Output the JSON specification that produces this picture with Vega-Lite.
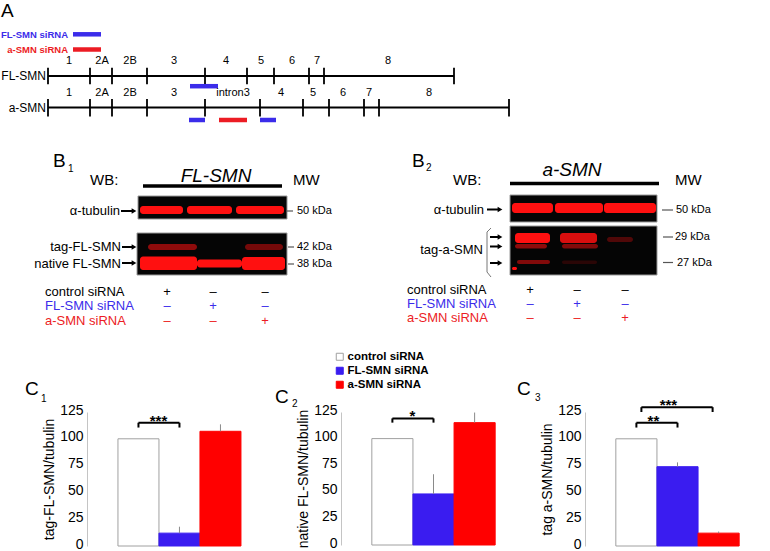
{
"$schema":"https://vega.github.io/schema/vega-lite/v6.json",
"padding":0,
"background":"#ffffff",
"bounds":"flush",
"spacing":0,
"config":{"view":{"stroke":null},"font":"Liberation Sans"},
"datasets":{
"bars":[
{"panel":"C1","condition":"control siRNA","value":100},
{"panel":"C1","condition":"FL-SMN siRNA","value":12,"upper":18},
{"panel":"C1","condition":"a-SMN siRNA","value":107,"upper":113.5},
{"panel":"C2","condition":"control siRNA","value":100},
{"panel":"C2","condition":"FL-SMN siRNA","value":48,"upper":66.5},
{"panel":"C2","condition":"a-SMN siRNA","value":115,"upper":124.5},
{"panel":"C3","condition":"control siRNA","value":100},
{"panel":"C3","condition":"FL-SMN siRNA","value":74,"upper":78},
{"panel":"C3","condition":"a-SMN siRNA","value":12,"upper":13.5}
],
"brackets":[
{"panel":"C1","condition":"control siRNA","to":"FL-SMN siRNA","value":115,"leg":110.5,"stars":"***"},
{"panel":"C2","condition":"control siRNA","to":"FL-SMN siRNA","value":119,"leg":115,"stars":"*"},
{"panel":"C3","condition":"control siRNA","to":"FL-SMN siRNA","value":115,"leg":110.5,"stars":"**"},
{"panel":"C3","condition":"control siRNA","to":"a-SMN siRNA","value":129.5,"leg":125,"stars":"***"}
],
"genes":[{"gene":"FL-SMN","x":48,"x2":454,"y":76},{"gene":"a-SMN","x":48,"x2":509,"y":107.5}],
"boundaries":[
{"gene":"FL-SMN","x":48,"y":67.7,"y2":84.3},{"gene":"FL-SMN","x":90,"y":67.7,"y2":84.3},{"gene":"FL-SMN","x":112,"y":67.7,"y2":84.3},{"gene":"FL-SMN","x":147,"y":67.7,"y2":84.3},{"gene":"FL-SMN","x":205,"y":67.7,"y2":84.3},{"gene":"FL-SMN","x":247,"y":67.7,"y2":84.3},{"gene":"FL-SMN","x":274,"y":67.7,"y2":84.3},{"gene":"FL-SMN","x":309,"y":67.7,"y2":84.3},{"gene":"FL-SMN","x":324,"y":67.7,"y2":84.3},{"gene":"FL-SMN","x":454,"y":67.7,"y2":84.3},
{"gene":"a-SMN","x":48,"y":99,"y2":116.5},{"gene":"a-SMN","x":90,"y":99,"y2":116.5},{"gene":"a-SMN","x":112,"y":99,"y2":116.5},{"gene":"a-SMN","x":147,"y":99,"y2":116.5},{"gene":"a-SMN","x":205,"y":99,"y2":116.5},{"gene":"a-SMN","x":260,"y":99,"y2":116.5},{"gene":"a-SMN","x":303,"y":99,"y2":116.5},{"gene":"a-SMN","x":329,"y":99,"y2":116.5},{"gene":"a-SMN","x":364,"y":99,"y2":116.5},{"gene":"a-SMN","x":379,"y":99,"y2":116.5},{"gene":"a-SMN","x":509,"y":99,"y2":116.5}
],
"exons":[
{"t":"1","x":69,"y":61},{"t":"2A","x":102,"y":61},{"t":"2B","x":130,"y":61},{"t":"3","x":174,"y":61},{"t":"4","x":226,"y":61},{"t":"5","x":261,"y":61},{"t":"6","x":292,"y":61},{"t":"7","x":317,"y":61},{"t":"8","x":388,"y":61},
{"t":"1","x":69,"y":92.5},{"t":"2A","x":102,"y":92.5},{"t":"2B","x":130,"y":92.5},{"t":"3","x":174,"y":92.5},{"t":"intron3","x":233,"y":92.5},{"t":"4","x":281,"y":92.5},{"t":"5","x":313,"y":92.5},{"t":"6","x":343,"y":92.5},{"t":"7","x":369,"y":92.5},{"t":"8","x":429,"y":92.5}
],
"genenames":[{"t":"FL-SMN","x":46,"y":76},{"t":"a-SMN","x":46,"y":107.5}],
"targets":[
{"siRNA":"FL-SMN siRNA","x":73,"x2":101,"y":34.3},
{"siRNA":"a-SMN siRNA","x":73,"x2":101,"y":49.5},
{"siRNA":"FL-SMN siRNA","x":190,"x2":218,"y":86.2},
{"siRNA":"FL-SMN siRNA","x":189,"x2":205,"y":120},
{"siRNA":"a-SMN siRNA","x":219,"x2":247,"y":120},
{"siRNA":"FL-SMN siRNA","x":260,"x2":276,"y":120}
],
"keys":[{"siRNA":"FL-SMN siRNA","x":68,"y":34.5},{"siRNA":"a-SMN siRNA","x":68,"y":49.5}],
"blots":[
{"x":138,"x2":287,"y":196,"y2":219},
{"x":137,"x2":287,"y":233,"y2":275},
{"x":510,"x2":657,"y":195,"y2":222},
{"x":510,"x2":657,"y":226,"y2":275}
],
"bands":[
{"x":140,"x2":183,"y":206,"y2":214,"intensity":1},
{"x":187,"x2":232,"y":206,"y2":214,"intensity":1},
{"x":236,"x2":284,"y":206,"y2":214,"intensity":1},
{"x":148,"x2":197,"y":244,"y2":250,"intensity":0.55},
{"x":245,"x2":283,"y":244,"y2":250,"intensity":0.45},
{"x":140,"x2":197,"y":256.5,"y2":270,"intensity":1},
{"x":197,"x2":242,"y":259.5,"y2":267.5,"intensity":1},
{"x":242,"x2":285,"y":257,"y2":270,"intensity":1},
{"x":512,"x2":553,"y":203,"y2":213,"intensity":1},
{"x":555,"x2":603,"y":203,"y2":213,"intensity":1},
{"x":604,"x2":656,"y":203,"y2":213,"intensity":1},
{"x":515,"x2":550,"y":233,"y2":243,"intensity":1},
{"x":560,"x2":597,"y":233,"y2":243,"intensity":0.85},
{"x":607,"x2":633,"y":237,"y2":242,"intensity":0.3},
{"x":515,"x2":547,"y":244,"y2":248.5,"intensity":0.55},
{"x":562,"x2":598,"y":244,"y2":248.5,"intensity":0.5},
{"x":517,"x2":550,"y":260,"y2":264,"intensity":0.5},
{"x":562,"x2":597,"y":260.5,"y2":264,"intensity":0.15},
{"x":512,"x2":517,"y":267,"y2":270,"intensity":1}
],
"headers":[{"x":143,"x2":282,"y":186},{"x":510,"x2":659,"y":183.5}],
"arrows":[
{"x":134,"x2":121,"y":211},{"x":134,"x2":122,"y":247},{"x":134,"x2":122,"y":263},
{"x":500,"x2":487,"y":209.5},{"x":500,"x2":490,"y":237},{"x":500,"x2":490,"y":246.5},{"x":500,"x2":490,"y":263}
],
"mwdash":[
{"x":287,"x2":293,"y":211},{"x":288,"x2":294,"y":247},{"x":288,"x2":294,"y":264},
{"x":662,"x2":673,"y":210},{"x":663,"x2":673,"y":237},{"x":663,"x2":673,"y":262.5}
],
"brace":[{"x":491,"y":228,"order":1},{"x":487,"y":232,"order":2},{"x":487,"y":272,"order":3},{"x":491,"y":277,"order":4}],
"letters":[{"t":"A","x":1,"y":17},{"t":"B","x":53,"y":167},{"t":"B","x":412,"y":167},{"t":"C","x":25,"y":395},{"t":"C","x":275,"y":403},{"t":"C","x":517,"y":395}],
"subs":[{"t":"1","x":68,"y":172},{"t":"2","x":426,"y":171},{"t":"1","x":41,"y":402},{"t":"2","x":292,"y":407},{"t":"3","x":535,"y":401}],
"wb":[{"t":"WB:","x":90,"y":185},{"t":"MW","x":293,"y":185},{"t":"WB:","x":453,"y":185},{"t":"MW","x":675,"y":185}],
"antibody":[{"t":"FL-SMN","x":216,"y":182},{"t":"a-SMN","x":572,"y":176}],
"blotlabels":[{"t":"α-tubulin","x":120,"y":211},{"t":"tag-FL-SMN","x":121,"y":247},{"t":"native FL-SMN","x":121,"y":263.5},{"t":"α-tubulin","x":484,"y":209.5},{"t":"tag-a-SMN","x":483,"y":250}],
"mw":[{"t":"50 kDa","x":297,"y":211},{"t":"42 kDa","x":297,"y":247},{"t":"38 kDa","x":297,"y":264},{"t":"50 kDa","x":676,"y":210},{"t":"29 kDa","x":675,"y":237},{"t":"27 kDa","x":677,"y":262.5}],
"rowlabels":[
{"siRNA":"control siRNA","x":45,"y":292},{"siRNA":"FL-SMN siRNA","x":45,"y":305.5},{"siRNA":"a-SMN siRNA","x":45,"y":320.5},
{"siRNA":"control siRNA","x":407,"y":290},{"siRNA":"FL-SMN siRNA","x":407,"y":304},{"siRNA":"a-SMN siRNA","x":407,"y":318}
],
"signs":[
{"siRNA":"control siRNA","x":167,"y":292,"sign":"+"},{"siRNA":"control siRNA","x":213,"y":292,"sign":"–"},{"siRNA":"control siRNA","x":265,"y":292,"sign":"–"},
{"siRNA":"FL-SMN siRNA","x":167,"y":305.5,"sign":"–"},{"siRNA":"FL-SMN siRNA","x":213,"y":305.5,"sign":"+"},{"siRNA":"FL-SMN siRNA","x":265,"y":305.5,"sign":"–"},
{"siRNA":"a-SMN siRNA","x":167,"y":320.5,"sign":"–"},{"siRNA":"a-SMN siRNA","x":213,"y":320.5,"sign":"–"},{"siRNA":"a-SMN siRNA","x":265,"y":320.5,"sign":"+"},
{"siRNA":"control siRNA","x":530,"y":290,"sign":"+"},{"siRNA":"control siRNA","x":577,"y":290,"sign":"–"},{"siRNA":"control siRNA","x":625,"y":290,"sign":"–"},
{"siRNA":"FL-SMN siRNA","x":530,"y":304,"sign":"–"},{"siRNA":"FL-SMN siRNA","x":577,"y":304,"sign":"+"},{"siRNA":"FL-SMN siRNA","x":625,"y":304,"sign":"–"},
{"siRNA":"a-SMN siRNA","x":530,"y":318,"sign":"–"},{"siRNA":"a-SMN siRNA","x":577,"y":318,"sign":"–"},{"siRNA":"a-SMN siRNA","x":625,"y":318,"sign":"+"}
]
},
"vconcat":[
{
"width":770,"height":412,
"encoding":{
"x":{"field":"x","type":"quantitative","scale":{"domain":[0,770],"range":[0,770],"nice":false,"zero":false},"axis":null},
"y":{"field":"y","type":"quantitative","scale":{"domain":[0,412],"range":[0,412],"nice":false,"zero":false},"axis":null}
},
"layer":[
{"data":{"name":"blots"},"mark":{"type":"rect","fill":"#050505","stroke":"#9a9a9a","strokeWidth":1},"encoding":{"x2":{"field":"x2"},"y2":{"field":"y2"}}},
{"data":{"name":"bands"},"mark":{"type":"rect","fill":"#ff1010","cornerRadius":3},"encoding":{"x2":{"field":"x2"},"y2":{"field":"y2"},"opacity":{"field":"intensity","type":"quantitative","scale":null}}},
{"data":{"name":"genes"},"mark":{"type":"rule","color":"#000000","strokeWidth":1.8},"encoding":{"x2":{"field":"x2"}}},
{"data":{"name":"boundaries"},"mark":{"type":"rule","color":"#000000","strokeWidth":1.8},"encoding":{"y2":{"field":"y2"}}},
{"data":{"name":"targets"},"mark":{"type":"rule","strokeWidth":4.5},"encoding":{"x2":{"field":"x2"},"color":{"field":"siRNA","type":"nominal","scale":{"domain":["FL-SMN siRNA","a-SMN siRNA","control siRNA"],"range":["#3b2cea","#ec1c24","#000000"]},"legend":null}}},
{"data":{"name":"headers"},"mark":{"type":"rule","color":"#000000","strokeWidth":3.5},"encoding":{"x2":{"field":"x2"}}},
{"data":{"name":"arrows"},"mark":{"type":"rule","color":"#000000","strokeWidth":2},"encoding":{"x2":{"field":"x2"}}},
{"data":{"name":"arrows"},"mark":{"type":"point","shape":"triangle-right","filled":true,"color":"#000000","size":30,"opacity":1},"encoding":{}},
{"data":{"name":"mwdash"},"mark":{"type":"rule","color":"#555555","strokeWidth":1.2},"encoding":{"x2":{"field":"x2"}}},
{"data":{"name":"brace"},"mark":{"type":"line","color":"#777777","strokeWidth":1},"encoding":{"order":{"field":"order","type":"quantitative"}}},
{"data":{"name":"letters"},"mark":{"type":"text","fontSize":19,"align":"left","baseline":"alphabetic","color":"#000000"},"encoding":{"text":{"field":"t"}}},
{"data":{"name":"subs"},"mark":{"type":"text","fontSize":10,"align":"left","baseline":"alphabetic","color":"#000000"},"encoding":{"text":{"field":"t"}}},
{"data":{"name":"wb"},"mark":{"type":"text","fontSize":15,"align":"left","baseline":"alphabetic","color":"#000000"},"encoding":{"text":{"field":"t"}}},
{"data":{"name":"antibody"},"mark":{"type":"text","fontSize":19,"fontStyle":"italic","align":"center","baseline":"alphabetic","color":"#000000"},"encoding":{"text":{"field":"t"}}},
{"data":{"name":"blotlabels"},"mark":{"type":"text","fontSize":13,"align":"right","baseline":"middle","color":"#000000"},"encoding":{"text":{"field":"t"}}},
{"data":{"name":"mw"},"mark":{"type":"text","fontSize":11,"align":"left","baseline":"middle","color":"#000000"},"encoding":{"text":{"field":"t"}}},
{"data":{"name":"exons"},"mark":{"type":"text","fontSize":11,"align":"center","baseline":"middle","color":"#000000"},"encoding":{"text":{"field":"t"}}},
{"data":{"name":"genenames"},"mark":{"type":"text","fontSize":12,"align":"right","baseline":"middle","color":"#000000"},"encoding":{"text":{"field":"t"}}},
{"data":{"name":"keys"},"mark":{"type":"text","fontSize":9.5,"fontWeight":"bold","align":"right","baseline":"middle"},"encoding":{"text":{"field":"siRNA"},"color":{"field":"siRNA","type":"nominal","scale":{"domain":["FL-SMN siRNA","a-SMN siRNA","control siRNA"],"range":["#3b2cea","#ec1c24","#000000"]},"legend":null}}},
{"data":{"name":"rowlabels"},"mark":{"type":"text","fontSize":13,"align":"left","baseline":"middle"},"encoding":{"text":{"field":"siRNA"},"color":{"field":"siRNA","type":"nominal","scale":{"domain":["FL-SMN siRNA","a-SMN siRNA","control siRNA"],"range":["#3b2cea","#ec1c24","#000000"]},"legend":null}}},
{"data":{"name":"signs"},"mark":{"type":"text","fontSize":13,"align":"center","baseline":"middle"},"encoding":{"text":{"field":"sign"},"color":{"field":"siRNA","type":"nominal","scale":{"domain":["FL-SMN siRNA","a-SMN siRNA","control siRNA"],"range":["#3b2cea","#ec1c24","#000000"]},"legend":null}}}
]
},
{
"spacing":59,
"bounds":"flush",
"hconcat":[
{"width":28,"height":134,"data":{"values":[{"k":0}]},"mark":{"type":"point","opacity":0},"encoding":{}},
{
"width":195,"height":134,
"encoding":{
"x":{"field":"condition","type":"nominal","scale":{"type":"band","domain":["control siRNA","FL-SMN siRNA","a-SMN siRNA"],"paddingInner":0,"paddingOuter":0.878,"align":0.43},"axis":{"labels":false,"ticks":false,"title":null,"grid":false,"domainColor":"#a6a6a6","domainWidth":1}},
"y":{"field":"value","type":"quantitative","scale":{"domain":[0,125],"nice":false,"zero":true},"axis":{"values":[0,25,50,75,100,125],"ticks":false,"labelPadding":4,"labelOffset":-2,"labelFontSize":14,"labelColor":"#000000","labelFlush":false,"labelOverlap":false,"labelBound":false,"grid":false,"domainColor":"#c4c4c4","title":"tag-FL-SMN/tubulin","titleFontSize":14,"titleFontWeight":"normal","titleColor":"#000000","titlePadding":3}}
},
"layer":[
{"data":{"name":"bars"},"transform":[{"filter":"datum.panel === 'C1'"}],"mark":{"type":"bar","strokeWidth":1},"encoding":{
"fill":{"field":"condition","type":"nominal","scale":{"domain":["control siRNA","FL-SMN siRNA","a-SMN siRNA"],"range":["#ffffff","#3a1cf0","#ff0000"]},"legend":{"orient":"none","legendX":334,"legendY":351,"title":null,"symbolType":"square","symbolSize":49,"symbolStrokeWidth":1,"labelFontSize":11.5,"labelFontWeight":"bold","labelColor":"#000000","labelOffset":2,"rowPadding":1,"labelLimit":200}},
"stroke":{"field":"condition","type":"nominal","scale":{"domain":["control siRNA","FL-SMN siRNA","a-SMN siRNA"],"range":["#a0a0a0","#3a1cf0","#ff0000"]},"legend":{"orient":"none","legendX":334,"legendY":351,"title":null,"symbolType":"square","symbolSize":49,"symbolStrokeWidth":1,"labelFontSize":11.5,"labelFontWeight":"bold","labelColor":"#000000","labelOffset":2,"rowPadding":1,"labelLimit":200}}}},
{"data":{"name":"bars"},"transform":[{"filter":"datum.panel === 'C1' && isValid(datum.upper)"}],"mark":{"type":"rule","color":"#8a8a8a","strokeWidth":1},"encoding":{"y2":{"field":"upper"}}},
{"data":{"name":"brackets"},"transform":[{"filter":"datum.panel === 'C1'"}],"mark":{"type":"rule","color":"#000000","strokeWidth":2},"encoding":{"x2":{"field":"to"}}},
{"data":{"name":"brackets"},"transform":[{"filter":"datum.panel === 'C1'"}],"mark":{"type":"rule","color":"#000000","strokeWidth":2},"encoding":{"y2":{"field":"leg"}}},
{"data":{"name":"brackets"},"transform":[{"filter":"datum.panel === 'C1'"}],"mark":{"type":"rule","color":"#000000","strokeWidth":2},"encoding":{"x":{"field":"to","type":"nominal","scale":{"type":"band","domain":["control siRNA","FL-SMN siRNA","a-SMN siRNA"],"paddingInner":0,"paddingOuter":0.878,"align":0.43},"axis":null},"y2":{"field":"leg"}}},
{"data":{"name":"brackets"},"transform":[{"filter":"datum.panel === 'C1'"}],"mark":{"type":"text","dx":20,"dy":3,"fontSize":15,"fontWeight":"bold","align":"center","baseline":"alphabetic","color":"#000000"},"encoding":{"text":{"field":"stars"}}}
]
},
{
"width":185,"height":133,
"encoding":{
"x":{"field":"condition","type":"nominal","scale":{"type":"band","domain":["control siRNA","FL-SMN siRNA","a-SMN siRNA"],"paddingInner":0,"paddingOuter":0.75},"axis":{"labels":false,"ticks":false,"title":null,"grid":false,"domainColor":"#a6a6a6","domainWidth":1}},
"y":{"field":"value","type":"quantitative","scale":{"domain":[0,125],"nice":false,"zero":true},"axis":{"values":[0,25,50,75,100,125],"ticks":false,"labelPadding":4,"labelOffset":-2,"labelFontSize":14,"labelColor":"#000000","labelFlush":false,"labelOverlap":false,"labelBound":false,"grid":false,"domainColor":"#c4c4c4","title":"native FL-SMN/tubulin","titleFontSize":14,"titleFontWeight":"normal","titleColor":"#000000","titlePadding":3}}
},
"layer":[
{"data":{"name":"bars"},"transform":[{"filter":"datum.panel === 'C2'"}],"mark":{"type":"bar","strokeWidth":1},"encoding":{
"fill":{"field":"condition","type":"nominal","scale":{"domain":["control siRNA","FL-SMN siRNA","a-SMN siRNA"],"range":["#ffffff","#3a1cf0","#ff0000"]},"legend":{"orient":"none","legendX":334,"legendY":351,"title":null,"symbolType":"square","symbolSize":49,"symbolStrokeWidth":1,"labelFontSize":11.5,"labelFontWeight":"bold","labelColor":"#000000","labelOffset":2,"rowPadding":1,"labelLimit":200}},
"stroke":{"field":"condition","type":"nominal","scale":{"domain":["control siRNA","FL-SMN siRNA","a-SMN siRNA"],"range":["#a0a0a0","#3a1cf0","#ff0000"]},"legend":{"orient":"none","legendX":334,"legendY":351,"title":null,"symbolType":"square","symbolSize":49,"symbolStrokeWidth":1,"labelFontSize":11.5,"labelFontWeight":"bold","labelColor":"#000000","labelOffset":2,"rowPadding":1,"labelLimit":200}}}},
{"data":{"name":"bars"},"transform":[{"filter":"datum.panel === 'C2' && isValid(datum.upper)"}],"mark":{"type":"rule","color":"#8a8a8a","strokeWidth":1},"encoding":{"y2":{"field":"upper"}}},
{"data":{"name":"brackets"},"transform":[{"filter":"datum.panel === 'C2'"}],"mark":{"type":"rule","color":"#000000","strokeWidth":2},"encoding":{"x2":{"field":"to"}}},
{"data":{"name":"brackets"},"transform":[{"filter":"datum.panel === 'C2'"}],"mark":{"type":"rule","color":"#000000","strokeWidth":2},"encoding":{"y2":{"field":"leg"}}},
{"data":{"name":"brackets"},"transform":[{"filter":"datum.panel === 'C2'"}],"mark":{"type":"rule","color":"#000000","strokeWidth":2},"encoding":{"x":{"field":"to","type":"nominal","scale":{"type":"band","domain":["control siRNA","FL-SMN siRNA","a-SMN siRNA"],"paddingInner":0,"paddingOuter":0.75},"axis":null},"y2":{"field":"leg"}}},
{"data":{"name":"brackets"},"transform":[{"filter":"datum.panel === 'C2'"}],"mark":{"type":"text","dx":20,"dy":3,"fontSize":15,"fontWeight":"bold","align":"center","baseline":"alphabetic","color":"#000000"},"encoding":{"text":{"field":"stars"}}}
]
},
{
"width":185,"height":134,
"encoding":{
"x":{"field":"condition","type":"nominal","scale":{"type":"band","domain":["control siRNA","FL-SMN siRNA","a-SMN siRNA"],"paddingInner":0,"paddingOuter":0.75},"axis":{"labels":false,"ticks":false,"title":null,"grid":false,"domainColor":"#a6a6a6","domainWidth":1}},
"y":{"field":"value","type":"quantitative","scale":{"domain":[0,125],"nice":false,"zero":true},"axis":{"values":[0,25,50,75,100,125],"ticks":false,"labelPadding":4,"labelOffset":-2,"labelFontSize":14,"labelColor":"#000000","labelFlush":false,"labelOverlap":false,"labelBound":false,"grid":false,"domainColor":"#c4c4c4","title":"tag a-SMN/tubulin","titleFontSize":14,"titleFontWeight":"normal","titleColor":"#000000","titlePadding":3}}
},
"layer":[
{"data":{"name":"bars"},"transform":[{"filter":"datum.panel === 'C3'"}],"mark":{"type":"bar","strokeWidth":1},"encoding":{
"fill":{"field":"condition","type":"nominal","scale":{"domain":["control siRNA","FL-SMN siRNA","a-SMN siRNA"],"range":["#ffffff","#3a1cf0","#ff0000"]},"legend":{"orient":"none","legendX":334,"legendY":351,"title":null,"symbolType":"square","symbolSize":49,"symbolStrokeWidth":1,"labelFontSize":11.5,"labelFontWeight":"bold","labelColor":"#000000","labelOffset":2,"rowPadding":1,"labelLimit":200}},
"stroke":{"field":"condition","type":"nominal","scale":{"domain":["control siRNA","FL-SMN siRNA","a-SMN siRNA"],"range":["#a0a0a0","#3a1cf0","#ff0000"]},"legend":{"orient":"none","legendX":334,"legendY":351,"title":null,"symbolType":"square","symbolSize":49,"symbolStrokeWidth":1,"labelFontSize":11.5,"labelFontWeight":"bold","labelColor":"#000000","labelOffset":2,"rowPadding":1,"labelLimit":200}}}},
{"data":{"name":"bars"},"transform":[{"filter":"datum.panel === 'C3' && isValid(datum.upper)"}],"mark":{"type":"rule","color":"#8a8a8a","strokeWidth":1},"encoding":{"y2":{"field":"upper"}}},
{"data":{"name":"brackets"},"transform":[{"filter":"datum.panel === 'C3' && datum.to === 'FL-SMN siRNA'"}],"mark":{"type":"rule","color":"#000000","strokeWidth":2},"encoding":{"x2":{"field":"to"}}},
{"data":{"name":"brackets"},"transform":[{"filter":"datum.panel === 'C3' && datum.to === 'FL-SMN siRNA'"}],"mark":{"type":"rule","color":"#000000","strokeWidth":2},"encoding":{"y2":{"field":"leg"}}},
{"data":{"name":"brackets"},"transform":[{"filter":"datum.panel === 'C3' && datum.to === 'FL-SMN siRNA'"}],"mark":{"type":"rule","color":"#000000","strokeWidth":2},"encoding":{"x":{"field":"to","type":"nominal","scale":{"type":"band","domain":["control siRNA","FL-SMN siRNA","a-SMN siRNA"],"paddingInner":0,"paddingOuter":0.75},"axis":null},"y2":{"field":"leg"}}},
{"data":{"name":"brackets"},"transform":[{"filter":"datum.panel === 'C3' && datum.to === 'FL-SMN siRNA'"}],"mark":{"type":"text","dx":17,"dy":3,"fontSize":15,"fontWeight":"bold","align":"center","baseline":"alphabetic","color":"#000000"},"encoding":{"text":{"field":"stars"}}},
{"data":{"name":"brackets"},"transform":[{"filter":"datum.panel === 'C3' && datum.to === 'a-SMN siRNA'"}],"mark":{"type":"rule","color":"#000000","strokeWidth":2,"xOffset":5,"x2Offset":-6},"encoding":{"x2":{"field":"to"}}},
{"data":{"name":"brackets"},"transform":[{"filter":"datum.panel === 'C3' && datum.to === 'a-SMN siRNA'"}],"mark":{"type":"rule","color":"#000000","strokeWidth":2,"xOffset":5},"encoding":{"y2":{"field":"leg"}}},
{"data":{"name":"brackets"},"transform":[{"filter":"datum.panel === 'C3' && datum.to === 'a-SMN siRNA'"}],"mark":{"type":"rule","color":"#000000","strokeWidth":2,"xOffset":-6},"encoding":{"x":{"field":"to","type":"nominal","scale":{"type":"band","domain":["control siRNA","FL-SMN siRNA","a-SMN siRNA"],"paddingInner":0,"paddingOuter":0.75},"axis":null},"y2":{"field":"leg"}}},
{"data":{"name":"brackets"},"transform":[{"filter":"datum.panel === 'C3' && datum.to === 'a-SMN siRNA'"}],"mark":{"type":"text","dx":32,"dy":3,"fontSize":15,"fontWeight":"bold","align":"center","baseline":"alphabetic","color":"#000000"},"encoding":{"text":{"field":"stars"}}}
]
}
]
}
]
}
